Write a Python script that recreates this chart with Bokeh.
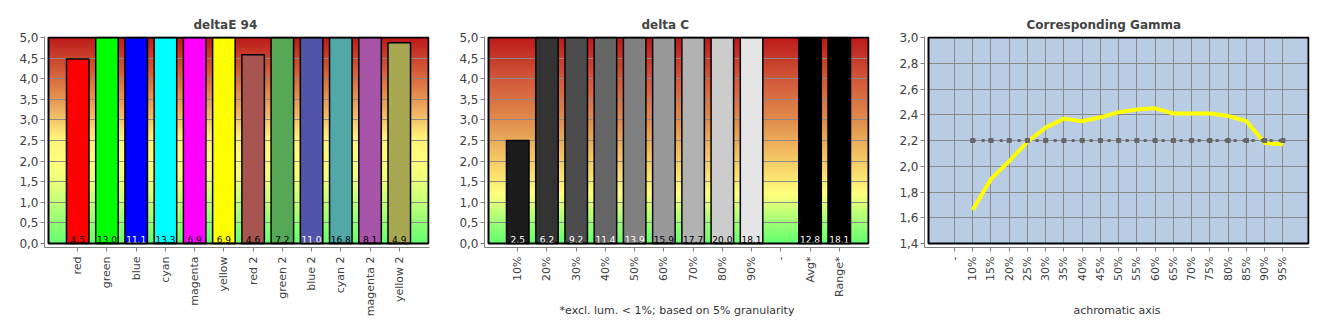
import math
from bokeh.plotting import figure
from bokeh.layouts import row
from bokeh.models import Range1d, FixedTicker, CustomJSTickFormatter, Grid
from bokeh.core.properties import value
from bokeh.embed import file_html
from bokeh.resources import INLINE

# ---------------- data ----------------
de_categories = ["red", "green", "blue", "cyan", "magenta", "yellow",
                 "red 2", "green 2", "blue 2", "cyan 2", "magenta 2", "yellow 2"]
de_values = [4.48, 13.0, 11.1, 13.3, 6.9, 6.9, 4.58, 7.2, 11.0, 16.8, 8.1, 4.87]
de_colors = ["#FF0000", "#00FF00", "#0000FF", "#00FFFF", "#FF00FF", "#FFFF00",
             "#A85450", "#55A855", "#5254A8", "#52A8A8", "#A854A8", "#A8A852"]
de_text_colors = ["black", "black", "white", "black", "black", "black",
                  "black", "black", "white", "black", "black", "black"]

dc_categories = ["10%", "20%", "30%", "40%", "50%", "60%", "70%", "80%", "90%",
                 "-", "Avg*", "Range*"]
dc_values = [2.5, 6.2, 9.2, 11.4, 13.9, 15.9, 17.7, 20.0, 18.1, None, 12.8, 18.1]
dc_colors = ["#1C1C1C", "#333333", "#4C4C4C", "#666666", "#808080", "#999999",
             "#B2B2B2", "#CCCCCC", "#E5E5E5", None, "#000000", "#000000"]
dc_text_colors = ["white", "white", "white", "white", "white", "black",
                  "black", "black", "black", None, "white", "white"]
dc_footnote = "*excl. lum. < 1%; based on 5% granularity"

gamma_categories = ["-", "10%", "15%", "20%", "25%", "30%", "35%", "40%", "45%",
                    "50%", "55%", "60%", "65%", "70%", "75%", "80%", "85%", "90%", "95%"]
gamma_values = [None, 1.66, 1.90, 2.04, 2.19, 2.30, 2.37, 2.35, 2.38, 2.42,
                2.44, 2.45, 2.41, 2.41, 2.41, 2.39, 2.35, 2.18, 2.17]
gamma_target = [None, 2.2, 2.2, 2.2, 2.2, 2.2, 2.2, 2.2, 2.2, 2.2,
                2.2, 2.2, 2.2, 2.2, 2.2, 2.2, 2.2, 2.2, 2.2]

# ---------------- style ----------------
FONT = "DejaVu Sans"
AX_COL = "#808080"
GRID_COL = "#8A8A8A"
de_stops = [(0.0, "#62FF70"), (0.5, "#90FF74"), (1.0, "#C2FF78"), (1.5, "#ECFF7A"),
            (2.0, "#FFFF7C"), (2.6, "#FFF07A"), (3.2, "#EFB262"), (4.0, "#DA6C3E"),
            (5.0, "#BC1A1A")]
dc_stops = [(0.0, "#62FF70"), (0.6, "#A8FF76"), (1.2, "#FFFF7C"), (2.0, "#F5CC66"),
            (3.0, "#E08C4C"), (4.0, "#D2583A"), (5.0, "#BC1A1A")]

HAS_CB = "cross_bounds" in Grid.properties()


def hex2rgb(h):
    h = h.lstrip("#")
    return tuple(int(h[i:i + 2], 16) for i in (0, 2, 4))


def interp(stops, v):
    for (a, ca), (b, cb) in zip(stops[:-1], stops[1:]):
        if a <= v <= b:
            t = (v - a) / (b - a)
            r1, g1, b1 = hex2rgb(ca)
            r2, g2, b2 = hex2rgb(cb)
            return "#%02X%02X%02X" % (round(r1 + (r2 - r1) * t), round(g1 + (g2 - g1) * t),
                                      round(b1 + (b2 - b1) * t))
    return stops[-1][1]


def style_axes(p, title_offset):
    for ax in (p.xaxis[0], p.yaxis[0]):
        ax.axis_line_color = AX_COL
        ax.major_tick_line_color = AX_COL
        ax.minor_tick_line_color = None
        ax.major_tick_in = 0
        ax.major_tick_out = 4
        ax.major_label_text_font = FONT
    p.yaxis.major_label_text_font_size = "12px"
    p.yaxis.major_label_text_color = "#404040"
    p.yaxis.major_label_standoff = 2
    p.xaxis.major_label_text_font_size = "11px"
    p.xaxis.major_label_text_color = "#404040"
    p.xaxis.major_label_standoff = 5
    p.xaxis.major_label_orientation = math.pi / 2
    p.yaxis.formatter = CustomJSTickFormatter(code="return tick.toFixed(1).replace('.', ',');")
    p.title.align = "left"
    p.title.text_font = FONT
    p.title.text_font_size = "12px"
    p.title.text_font_style = "bold"
    p.title.offset = title_offset
    p.title.standoff = 10
    p.outline_line_color = None
    p.border_fill_color = "white"
    p.background_fill_color = "white"


def style_axis_label(p, text, standoff):
    p.xaxis.axis_label = text
    p.xaxis.axis_label_text_font = FONT
    p.xaxis.axis_label_text_font_size = "11px"
    p.xaxis.axis_label_text_font_style = "normal"
    p.xaxis.axis_label_text_color = "#333333"
    p.xaxis.axis_label_standoff = standoff


def bar_chart(title, title_offset, cats, vals, colors, tcolors, stops, footnote=None):
    n = len(cats)
    x1 = n + 1
    ux = x1 / 380.0
    uy = 5.0 / 206.0
    p = figure(width=440, height=330, output_backend="svg", toolbar_location=None,
               x_range=Range1d(-4 * ux, x1 + 1 * ux), y_range=Range1d(-4 * uy, 5.0 + 1 * uy),
               min_border_left=44, min_border_right=11, min_border_top=36, min_border_bottom=83,
               title=title)
    # gradient background
    ns = 103
    edges = [5.0 * i / ns for i in range(ns + 1)]
    cols = [interp(stops, (edges[i] + edges[i + 1]) / 2) for i in range(ns)]
    p.quad(left=0, right=x1, bottom=edges[:-1], top=edges[1:], fill_color=cols,
           line_color=cols, line_width=1, level="image")
    # bars
    xs = [i + 1 for i, v in enumerate(vals) if v is not None]
    vv = [v for v in vals if v is not None]
    cc = [c for c, v in zip(colors, vals) if v is not None]
    tc = [c for c, v in zip(tcolors, vals) if v is not None]
    tops = [min(v, 5.0) for v in vv]
    labels = [("%.1f" % v).replace(".", ",") for v in vv]
    p.vbar(x=xs, top=tops, bottom=0, width=0.77, fill_color=cc, line_color="black",
           line_width=1.5)
    p.text(x=xs, y=[0.1] * len(xs), text=labels, text_color=tc, text_align="center",
           text_baseline="alphabetic", text_font=value(FONT), text_font_size=value("9px"))
    # border
    p.quad(left=0, right=x1, bottom=0, top=5.0, fill_color=None, line_color="black",
           line_width=2)
    p.xgrid.visible = False
    p.ygrid.grid_line_color = GRID_COL
    p.ygrid.grid_line_width = 1
    if HAS_CB:
        p.ygrid.cross_bounds = (0, x1)
    p.yaxis.ticker = FixedTicker(ticks=[i * 0.5 for i in range(11)])
    p.xaxis.ticker = FixedTicker(ticks=list(range(1, n + 1)))
    p.xaxis.formatter = CustomJSTickFormatter(
        args=dict(labels=cats),
        code="const i = Math.round(tick) - 1; return (i >= 0 && i < labels.length) ? labels[i] : '';")
    style_axes(p, title_offset)
    if footnote:
        style_axis_label(p, footnote, 4)
    return p


p1 = bar_chart("deltaE 94", 149, de_categories, de_values, de_colors, de_text_colors, de_stops)
p2 = bar_chart("delta C", 157, dc_categories, dc_values, dc_colors, dc_text_colors, dc_stops,
               footnote=dc_footnote)

# ---------------- gamma chart ----------------
gx0, gx1 = -1.42, 19.40
ux = (gx1 - gx0) / 380.0
gy0, gy1 = 1.4, 3.0
uy = (gy1 - gy0) / 206.0
p3 = figure(width=440, height=330, output_backend="svg", toolbar_location=None,
            x_range=Range1d(gx0 - 4 * ux, gx1 + 1 * ux), y_range=Range1d(gy0 - 4 * uy, gy1 + 1 * uy),
            min_border_left=44, min_border_right=11, min_border_top=36, min_border_bottom=83,
            title="Corresponding Gamma")
p3.quad(left=gx0, right=gx1, bottom=gy0, top=gy1, fill_color="#B8CCE4", line_color=None,
        level="image")
gxs = list(range(len(gamma_categories)))
lx = [x for x, v in zip(gxs, gamma_values) if v is not None]
ly = [v for v in gamma_values if v is not None]
tx = [x for x, v in zip(gxs, gamma_target) if v is not None]
ty = [v for v in gamma_target if v is not None]
p3.line(lx, ly, line_color="#FFFF00", line_width=4)
p3.line(tx, ty, line_color="#666666", line_width=3, line_dash="3 6")
p3.scatter(tx, ty, marker="square", size=4, color="#666666")
p3.quad(left=gx0, right=gx1, bottom=gy0, top=gy1, fill_color=None, line_color="black",
        line_width=2)
p3.xaxis.ticker = FixedTicker(ticks=gxs)
p3.yaxis.ticker = FixedTicker(ticks=[1.4, 1.6, 1.8, 2.0, 2.2, 2.4, 2.6, 2.8, 3.0])
p3.xaxis.formatter = CustomJSTickFormatter(
    args=dict(labels=gamma_categories),
    code="const i = Math.round(tick); return (i >= 0 && i < labels.length) ? labels[i] : '';")
p3.xgrid.grid_line_color = GRID_COL
p3.ygrid.grid_line_color = GRID_COL
if HAS_CB:
    p3.xgrid.cross_bounds = (gy0, gy1)
    p3.ygrid.cross_bounds = (gx0, gx1)
style_axes(p3, 102)
style_axis_label(p3, "achromatic axis", 20)

layout = row(p1, p2, p3)
open("out.html", "w").write(file_html(layout, INLINE))
